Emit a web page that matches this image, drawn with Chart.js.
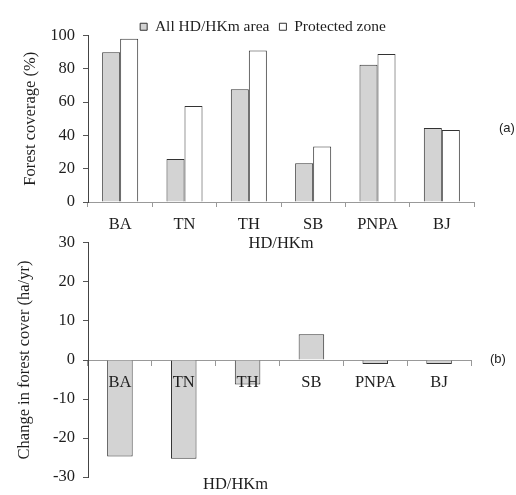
<!DOCTYPE html>
<html>
<head>
<meta charset="utf-8">
<script src="https://cdn.jsdelivr.net/npm/chart.js@4"></script>
<style>
body{margin:0;background:#fff;width:516px;height:495px;position:relative;overflow:hidden}
.box{position:absolute;left:0;width:516px}
#top{top:0;height:254px}
#bot{top:225px;height:270px}
.tag{position:absolute;font-family:"Liberation Sans",Arial,sans-serif;font-size:13px;color:#222}
</style>
</head>
<body>
<div class="box" id="bot"><canvas id="chartB"></canvas></div>
<div class="box" id="top"><canvas id="chartA"></canvas></div>
<div class="tag" style="left:499px;top:120px">(a)</div>
<div class="tag" style="left:490px;top:351px">(b)</div>
<script>
var sites = ["BA", "TN", "TH", "SB", "PNPA", "BJ"];
var allArea = [90, 25.8, 67.7, 23.2, 82.5, 44.4];
var protectedZone = [98, 57.7, 91, 33.3, 88.9, 43.3];
var changeRate = [-24.7, -25.3, -6.3, 6.6, -1.0, -1.0];
var coverTicks = [0, 100, 20];
var changeTicks = [-30, 30, 10];

var serif = "'Liberation Serif','Times New Roman',serif";
var txt = "#1e1e1e";
Chart.defaults.font.family = serif;
Chart.defaults.font.size = 16.5;
Chart.defaults.color = txt;
Chart.defaults.animation = false;

var gray = "#d3d3d3";
var edge = "#333";
var fnt = {family: serif, size: 16.5};

// legend is a bit too tall by default, trim it so plot sits closer
var legendTrim = {
  id: "legendTrim",
  afterInit: function(chart) {
    var lg = chart.legend;
    var orig = lg.fit;
    lg.fit = function() { orig.call(lg); lg.height -= 9; };
  }
};

// top chart - forest coverage
new Chart(document.getElementById("chartA"), {
  type: "bar",
  data: {
    labels: sites,
    datasets: [{
      label: "All HD/HKm area",
      data: allArea,
      backgroundColor: gray,
      borderColor: edge,
      borderWidth: 1
    }, {
      label: "Protected zone",
      data: protectedZone,
      backgroundColor: "#fff",
      borderColor: edge,
      borderWidth: 1
    }]
  },
  plugins: [legendTrim],
  options: {
    responsive: true,
    maintainAspectRatio: false,
    layout: {padding: {top: 9, left: 52, right: 42, bottom: 0}},
    datasets: {bar: {categoryPercentage: 0.56, barPercentage: 1}},
    plugins: {
      legend: {
        labels: {boxWidth: 7, boxHeight: 7, padding: 10, color: txt, font: {family: serif, size: 15.5}}
      },
      tooltip: {enabled: false}
    },
    scales: {
      x: {
        grid: {display: true, drawOnChartArea: false, tickLength: 5, color: "#999"},
        border: {color: "#999"},
        ticks: {padding: 8, font: fnt},
        title: {display: true, text: "HD/HKm", padding: 0, font: fnt},
        afterFit: function(s) { s.height = 52; }
      },
      y: {
        min: coverTicks[0], max: coverTicks[1],
        ticks: {stepSize: coverTicks[2], padding: 8, font: fnt},
        grid: {display: true, drawOnChartArea: false, tickLength: 5, color: "#555"},
        border: {color: "#444"},
        title: {display: true, text: "Forest coverage (%)", padding: {top: -31, bottom: 0}, font: fnt},
        afterFit: function(s) { s.width = 36; }
      }
    }
  }
});

// bottom chart - change in forest cover
new Chart(document.getElementById("chartB"), {
  type: "bar",
  data: {
    labels: sites,
    datasets: [{
      label: "Change",
      data: changeRate,
      backgroundColor: gray,
      borderColor: edge,
      borderWidth: 1
    }]
  },
  options: {
    responsive: true,
    maintainAspectRatio: false,
    layout: {padding: {top: 17, left: 0, right: 45, bottom: 0}},
    datasets: {bar: {categoryPercentage: 0.4, barPercentage: 1}},
    plugins: {
      legend: {display: false},
      tooltip: {enabled: false},
      title: {display: true, position: "bottom", text: "HD/HKm", padding: {top: -2, bottom: 0}, color: txt, font: {family: serif, size: 16.5, weight: "normal"}}
    },
    scales: {
      x: {
        position: {y: 0},
        grid: {display: true, drawOnChartArea: false, tickLength: 5, color: "#999"},
        border: {color: "#999"},
        ticks: {padding: 8, font: fnt, z: 1}
      },
      y: {
        min: changeTicks[0], max: changeTicks[1],
        ticks: {stepSize: changeTicks[2], padding: 8, font: fnt},
        grid: {display: true, drawOnChartArea: false, tickLength: 5, color: "#555"},
        border: {color: "#444"},
        title: {display: true, text: "Change in forest cover (ha/yr)", padding: {top: 15, bottom: 0}, font: fnt},
        afterFit: function(s) { s.width = 88; }
      }
    }
  }
});
</script>
</body>
</html>
